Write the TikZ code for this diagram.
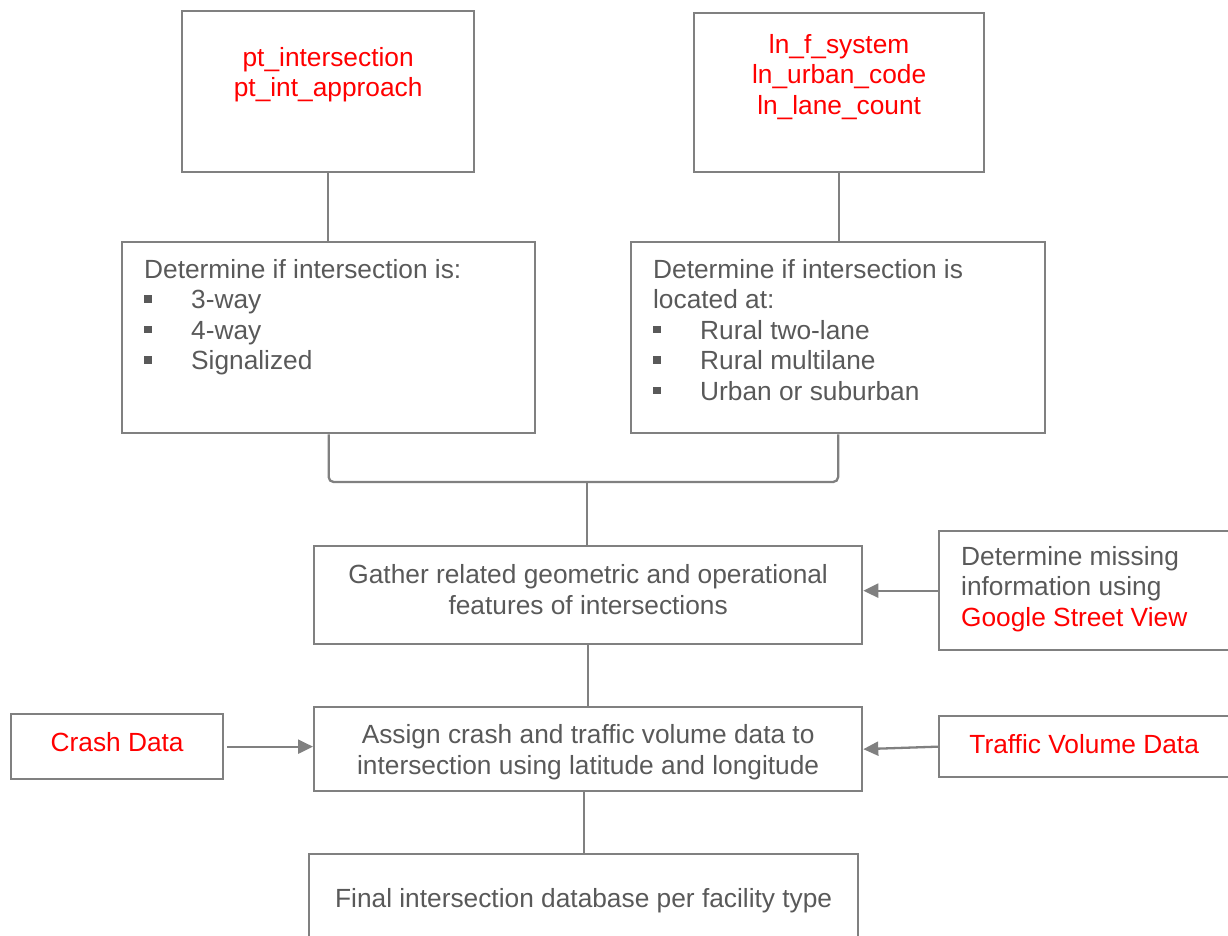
\documentclass[tikz,border=0pt]{standalone}
\usepackage{fontspec}
\setmainfont{Liberation Sans}
\usetikzlibrary{arrows.meta}
\definecolor{linegray}{HTML}{808080}
\definecolor{textgray}{HTML}{595959}
\definecolor{textred}{HTML}{FF0000}
% box content: width, height, top gap, text
\newcommand{\boxtext}[4]{\parbox[c][#2][t]{#1}{\vspace*{#3}#4}}
\newcommand{\bulitem}{\par\noindent\makebox[47pt][l]{\rule[0.22em]{0.29em}{0.29em}}}
\begin{document}
\begin{tikzpicture}[x=1pt,y=-1pt,
	box/.style={draw=linegray,line width=2.3pt,anchor=north west,inner ysep=0pt,inner xsep=0pt,
		text=textgray,font=\fontsize{26.3}{30.5}\selectfont},
	leftbox/.style={box,inner xsep=22pt},
	link/.style={draw=linegray,line width=2.3pt},
	arrow/.style={link,-{Triangle[length=15pt,width=14pt]}}]
	\useasboundingbox (0,0) rectangle (1228,935);
	\clip (0,0) rectangle (1228,935);

	% top boxes
	\node[box] (ptbox) at (181,10) {\boxtext{292pt}{161pt}{36pt}{\centering\color{textred}
		pt\_intersection\\pt\_int\_approach}};
	\node[box] (lnbox) at (693,12) {\boxtext{290pt}{159pt}{21pt}{\centering\color{textred}
		ln\_f\_system\\ln\_urban\_code\\ln\_lane\_count}};

	% intersection type and location
	\node[leftbox] (typebox) at (121,241) {\boxtext{369pt}{191pt}{17pt}{\raggedright
		Determine if intersection is:
		\bulitem 3-way
		\bulitem 4-way
		\bulitem Signalized}};
	\node[leftbox] (sitebox) at (630,241) {\boxtext{370pt}{191pt}{17pt}{\raggedright
		Determine if intersection is\par located at:
		\bulitem Rural two-lane
		\bulitem Rural multilane
		\bulitem Urban or suburban}};

	% gathering features
	\node[box] (gather) at (313,545) {\boxtext{548pt}{98pt}{18.5pt}{\centering
		Gather related geometric and operational\\features of intersections}};
	\node[leftbox] (missing) at (938,530) {\boxtext{246pt}{119pt}{15pt}{\raggedright
		Determine missing\\information using\\\textcolor{textred}{Google Street View}}};

	% assigning data
	\node[box] (crash) at (10,713) {\boxtext{212pt}{65pt}{18pt}{\centering\color{textred}Crash Data}};
	\node[box] (assign) at (313,706) {\boxtext{548pt}{84pt}{17.5pt}{\centering
		Assign crash and traffic volume data to\\intersection using latitude and longitude}};
	\node[box] (traffic) at (938,715) {\boxtext{290pt}{61pt}{18pt}{\centering\color{textred}Traffic Volume Data}};

	\node[box] (final) at (308,853) {\boxtext{549pt}{88pt}{34.5pt}{\centering
		Final intersection database per facility type}};

	% connectors
	\draw[link] (ptbox.south) -- (ptbox.south |- typebox.north);
	\draw[link] (lnbox.south) -- (lnbox.south |- sitebox.north);
	\coordinate (join) at (587,482);
	\draw[link,rounded corners=5pt] (typebox.south) -- (typebox.south |- join) -- (sitebox.south |- join) -- (sitebox.south);
	\draw[link] (join) -- (join |- gather.north);
	\draw[arrow] (missing.west) -- (gather.east |- missing.west);
	\draw[link] (gather.south) -- (gather.south |- assign.north);
	\draw[arrow,shorten <=3pt] (crash.east) -- (assign.west |- crash.east);
	\draw[arrow] (traffic.west) -- (assign.east);
	\draw[link] (final.north |- assign.south) -- (final.north);
\end{tikzpicture}
\end{document}
